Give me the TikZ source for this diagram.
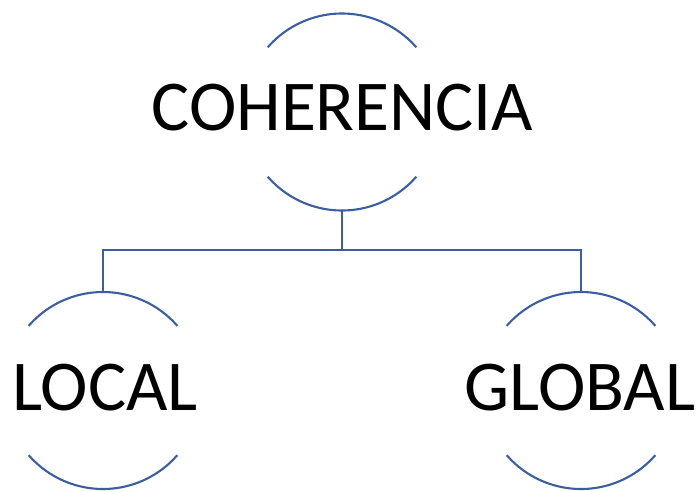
\documentclass[tikz,border=0pt]{standalone}
\usepackage{fontspec}
\setmainfont{Carlito}
\definecolor{arcblue}{RGB}{59,94,162}
\begin{document}
\begin{tikzpicture}[x=1pt,y=-1pt,
  arcline/.style={draw=arcblue,line width=2.1pt},
  conn/.style={draw=arcblue,line width=2.1pt},
  lbl/.style={anchor=base,inner sep=0pt,font=\fontsize{71.5}{80}\selectfont}]
\useasboundingbox (0,0) rectangle (700,491);
% centres
\coordinate (cc) at (342,112);
\coordinate (lc) at (103,390.5);
\coordinate (gc) at (581,390.5);
% circle tops/bottoms
\coordinate (cbot) at (342,210.5);
\coordinate (ltop) at (103,292);
\coordinate (gtop) at (581,292);
\coordinate (j) at (342,250);
% texts
\node[lbl] (ct) at (342.5,130) {COHERENCIA};
\node[lbl] (lt) at (105,410) {LOCAL};
\node[lbl] (gt) at (580,410) {GLOBAL};
% arcs
\foreach \c/\r in {cc/98.5,lc/98.5,gc/98.5}{
  \draw[arcline] ([shift={(41:\r pt)}]\c) arc[start angle=-41,end angle=-139,radius=\r];
  \draw[arcline] ([shift={(-41:\r pt)}]\c) arc[start angle=41,end angle=139,radius=\r];
}
% connectors
\draw[conn] (cbot) -- (j) -| (ltop);
\draw[conn] (j) -| (gtop);
\end{tikzpicture}
\end{document}
